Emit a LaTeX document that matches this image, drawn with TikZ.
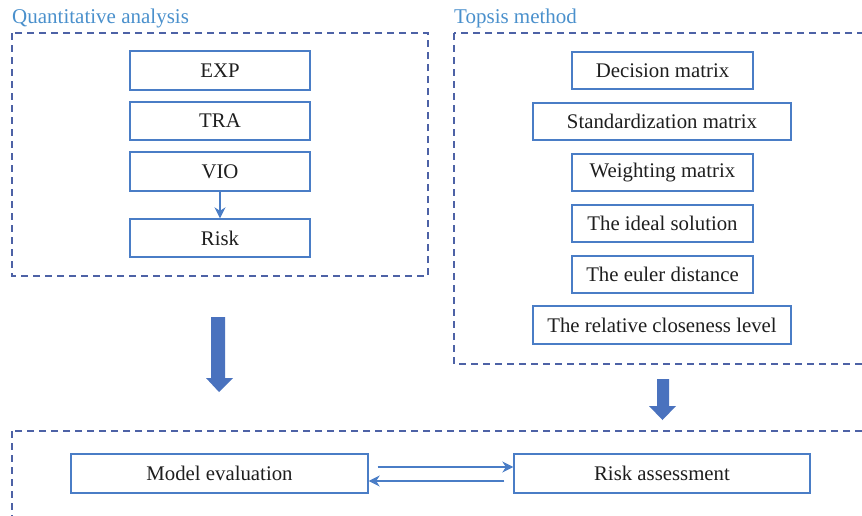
\documentclass[tikz,border=0pt]{standalone}
\usepackage{fontspec}
\setmainfont{Liberation Serif}
\usetikzlibrary{arrows.meta}
\definecolor{frameblue}{HTML}{4D62A6}
\definecolor{boxblue}{HTML}{4A7DC6}
\definecolor{titleblue}{HTML}{4A90CC}
\definecolor{arrowblue}{HTML}{4A72BE}
\definecolor{txt}{HTML}{1E1E1E}
\tikzset{
  frame/.style={draw=frameblue, line width=1.4pt, dash pattern=on 7pt off 5pt},
  title/.style={anchor=base west, inner sep=0pt, text=titleblue, font=\fontsize{21}{24}\selectfont},
  box/.style={draw=boxblue, line width=1.4pt, inner sep=0pt, text=txt, font=\fontsize{20.8}{24}\selectfont, minimum height=38pt},
  conn/.style={draw=boxblue, line width=1.2pt, -{Stealth[length=11pt,width=11pt]}},
  bigarrow/.style={fill=arrowblue, draw=none}
}
\begin{document}
\begin{tikzpicture}[x=1pt,y=-1pt]
\useasboundingbox (0,0) rectangle (862,515);
\begin{scope}
\clip (0,0) rectangle (862,515);
% frames
\draw[frame] (12,33) rectangle (428,276);
\draw[frame] (454,33) rectangle (880,364);
\draw[frame] (12,431) rectangle (880,540);
\end{scope}
\node[title] (t1) at (12,23) {Quantitative analysis};
\node[title] (t2) at (454,23) {Topsis method};
% left boxes
\node[box, minimum width=180pt, minimum height=39pt] (exp) at (220,70.5) {EXP};
\node[box, minimum width=180pt] (tra) at (220,121) {TRA};
\node[box, minimum width=180pt, minimum height=39pt] (vio) at (220,171.5) {VIO};
\node[box, minimum width=180pt] (risk) at (220,238) {Risk};
\draw[conn] (vio.south) -- (risk.north);
% right boxes
\node[box, minimum width=181pt, minimum height=37pt] (dm) at (662.5,70.5) {Decision matrix};
\node[box, minimum width=258pt, minimum height=37pt] (sm) at (662,121.5) {Standardization matrix};
\node[box, minimum width=181pt, minimum height=37pt] (wm) at (662.5,172.5) {Weighting matrix};
\node[box, minimum width=181pt, minimum height=37pt] (is) at (662.5,223.5) {The ideal solution};
\node[box, minimum width=181pt, minimum height=37pt] (ed) at (662.5,274.5) {The euler distance};
\node[box, minimum width=258pt] (rc) at (662,325) {The relative closeness level};
% bottom boxes
\node[box, minimum width=297pt, minimum height=39pt] (me) at (219.5,473.5) {Model evaluation};
\node[box, minimum width=296pt, minimum height=39pt] (ra) at (662,473.5) {Risk assessment};
\draw[conn] ([shift={(9pt,6.5pt)}]me.east) -- ([yshift=6.5pt]ra.west);
\draw[conn] ([shift={(-9pt,-7.5pt)}]ra.west) -- ([yshift=-7.5pt]me.east);
% big arrows
\fill[bigarrow] (211,317) -- (225,317) -- (225,378) -- (233,378) -- (219,392) -- (206,378) -- (211,378) -- cycle;
\fill[bigarrow] (657,379) -- (669,379) -- (669,406) -- (676,406) -- (662.5,420) -- (649,406) -- (657,406) -- cycle;
\end{tikzpicture}
\end{document}
